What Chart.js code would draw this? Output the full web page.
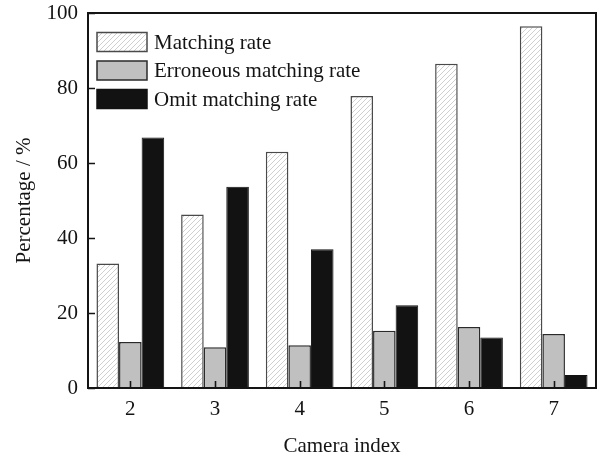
<!DOCTYPE html>
<html>
<head>
<meta charset="utf-8">
<script src="https://cdn.jsdelivr.net/npm/chart.js@4/dist/chart.umd.min.js"></script>
<style>
  html, body { margin: 0; padding: 0; background: #fff; }
  #wrap { width: 605px; height: 459px; }
</style>
</head>
<body>
<div id="wrap"><canvas id="c" width="605" height="459"></canvas></div>
<script>
// Camera counts and rates (%)
const categories = ['2', '3', '4', '5', '6', '7'];
const matchingRate = [33.2, 46.3, 63.0, 77.9, 86.5, 96.5];
const erroneousRate = [12.3, 10.9, 11.4, 15.3, 16.3, 14.4];
const omitRate = [66.8, 53.7, 37.0, 22.1, 13.5, 3.5];
const seriesNames = ['Matching rate', 'Erroneous matching rate', 'Omit matching rate'];
const yTicks = [0, 20, 40, 60, 80, 100];

const FONT = '"Liberation Serif", "Times New Roman", serif';
const INK = '#141414';

// Diagonal hatch used for the matching-rate bars
function makeHatch() {
  const s = 5;
  const c = document.createElement('canvas');
  c.width = s; c.height = s;
  const g = c.getContext('2d');
  g.fillStyle = '#ffffff';
  g.fillRect(0, 0, s, s);
  g.strokeStyle = '#c9c9c9';
  g.lineWidth = 0.9;
  g.beginPath();
  g.moveTo(-1, s + 1); g.lineTo(s + 1, -1);
  g.moveTo(-1, 1); g.lineTo(1, -1);
  g.moveTo(s - 1, s + 1); g.lineTo(s + 1, s - 1);
  g.stroke();
  return g.createPattern(c, 'repeat');
}
const hatch = makeHatch();

// Frame, inward tick marks and the boxed legend
const decorations = {
  id: 'decorations',
  afterDatasetsDraw(chart) {
    const { ctx, chartArea: a, scales: { x, y } } = chart;
    ctx.save();
    ctx.strokeStyle = INK;
    ctx.lineWidth = 1.6;
    ctx.beginPath();
    yTicks.forEach(v => {
      const py = Math.round(y.getPixelForValue(v)) + 0.5;
      ctx.moveTo(a.left, py); ctx.lineTo(a.left + 7, py);
    });
    categories.forEach((_, i) => {
      const px = Math.round(x.getPixelForValue(i)) + 0.5;
      ctx.moveTo(px, a.bottom); ctx.lineTo(px, a.bottom - 7);
    });
    ctx.stroke();
    ctx.lineWidth = 2;
    ctx.strokeRect(a.left, a.top, a.right - a.left, a.bottom - a.top);

    // legend
    const boxX = a.left + 9, boxW = 50, boxH = 19;
    const rowTops = [32.5, 61, 89.5];
    ctx.font = '21px ' + FONT;
    ctx.textBaseline = 'middle';
    ctx.textAlign = 'left';
    chart.data.datasets.forEach((ds, i) => {
      const top = rowTops[i];
      ctx.fillStyle = ds.backgroundColor;
      ctx.fillRect(boxX, top, boxW, boxH);
      ctx.lineWidth = 1.5;
      ctx.strokeStyle = ds.borderColor;
      ctx.strokeRect(boxX, top, boxW, boxH);
      ctx.fillStyle = INK;
      ctx.fillText(seriesNames[i], boxX + boxW + 7, top + boxH / 2 + 1);
    });
    ctx.restore();
  }
};

new Chart(document.getElementById('c'), {
  type: 'bar',
  data: {
    labels: categories,
    datasets: [
      { label: seriesNames[0], data: matchingRate, backgroundColor: hatch,
        borderColor: '#4a4a4a', borderWidth: 1.5 },
      { label: seriesNames[1], data: erroneousRate, backgroundColor: '#c0c0c0',
        borderColor: '#2a2a2a', borderWidth: 1.5 },
      { label: seriesNames[2], data: omitRate, backgroundColor: '#121212',
        borderColor: '#121212', borderWidth: 1 }
    ]
  },
  options: {
    responsive: false,
    animation: false,
    devicePixelRatio: 1,
    layout: { padding: { top: 13, right: 9, left: 0, bottom: 0 } },
    datasets: { bar: { categoryPercentage: 0.8, barPercentage: 1.0, borderSkipped: 'bottom' } },
    plugins: { legend: { display: false }, tooltip: { enabled: false } },
    scales: {
      x: {
        grid: { display: false, drawTicks: false },
        border: { display: false },
        ticks: { color: INK, font: { family: FONT, size: 21 }, padding: 9 },
        title: { display: true, text: 'Camera index', color: INK,
                 font: { family: FONT, size: 21 }, padding: { top: 0, bottom: 0 } },
        afterFit(s) { s.height = 71; s.paddingLeft = 0; s.paddingRight = 0; }
      },
      y: {
        min: 0, max: 100,
        afterBuildTicks(s) { s.ticks = yTicks.map(v => ({ value: v })); },
        grid: { display: false, drawTicks: false },
        border: { display: false },
        ticks: { color: INK, font: { family: FONT, size: 21 }, padding: 10 },
        title: { display: true, text: 'Percentage / %', color: INK,
                 font: { family: FONT, size: 21 }, padding: { top: 12, bottom: 0 } },
        afterFit(s) { s.width = 88; s.paddingTop = 0; s.paddingBottom = 0; }
      }
    }
  },
  plugins: [decorations]
});
</script>
</body>
</html>
